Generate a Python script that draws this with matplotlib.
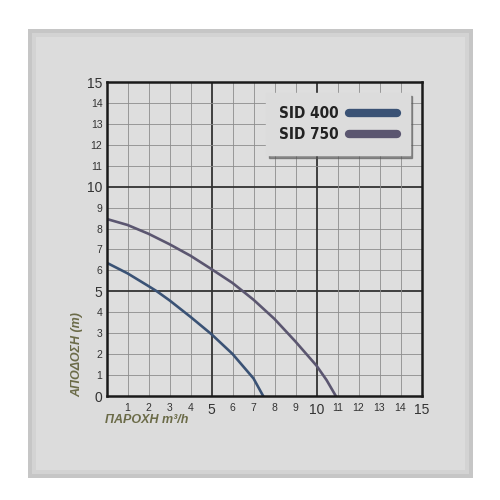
import matplotlib
matplotlib.use('Agg')
import matplotlib.pyplot as plt
from matplotlib.lines import Line2D
from matplotlib.patches import Rectangle

# pump curves (flow m3/h, head m)
q_400 = [0, 1, 2, 2.4, 3, 4, 5, 6, 7, 7.46]
h_400 = [6.37, 5.86, 5.25, 5.0, 4.57, 3.78, 2.95, 2.01, 0.84, 0.0]
q_750 = [0, 1, 2, 3, 4, 5, 6, 7, 8, 9, 10, 10.48, 10.92]
h_750 = [8.46, 8.17, 7.75, 7.25, 6.7, 6.06, 5.4, 4.6, 3.68, 2.6, 1.45, 0.76, 0.0]
names = ['SID 400', 'SID 750']
colors = ['#3a5275', '#5b5670']
ticks = list(range(0, 16))

fig = plt.figure(figsize=(5, 5), dpi=100, facecolor='white')

# grey panel behind the chart, with a soft darker rim
for k, fc in enumerate(['#c6c6c6', '#d3d3d3', '#dcdcdc']):
    d = 4 * k
    fig.patches.append(Rectangle(((28 + d)/500, (22 + d)/500), (445 - 2*d)/500, (449 - 2*d)/500,
                                 transform=fig.transFigure, facecolor=fc, edgecolor='none', zorder=-10))

ax = fig.add_axes([106.5/500, 104/500, 315/500, 314/500])
ax.set_facecolor('#dedede')
ax.set_xlim(0, 15); ax.set_ylim(0, 15)

# grid: thin every unit, heavy at 5 and 10
for v in ticks[1:-1]:
    heavy = v % 5 == 0
    c = '#333333' if heavy else '#8c8c8c'
    w = 1.3 if heavy else 0.6
    ax.axvline(v, color=c, lw=w, zorder=1)
    ax.axhline(v, color=c, lw=w, zorder=1)

ax.plot(q_400, h_400, color=colors[0], lw=1.9, zorder=3, solid_joinstyle='round')
ax.plot(q_750, h_750, color=colors[1], lw=1.9, zorder=3, solid_joinstyle='round')

for s in ax.spines.values():
    s.set_linewidth(1.8); s.set_color('#1a1a1a'); s.set_zorder(4)

ax.set_xticks(ticks[1:]); ax.set_yticks(ticks)
ax.set_xticklabels([str(t) for t in ticks[1:]])
ax.set_yticklabels([str(t) for t in ticks])
ax.tick_params(length=0, colors='#333333')
ax.tick_params(axis='x', pad=5)
ax.tick_params(axis='y', pad=3)
for lab in ax.get_xticklabels() + ax.get_yticklabels():
    big = int(lab.get_text()) % 5 == 0
    lab.set_fontsize(10 if big else 7.5)
    lab.set_family('Liberation Sans')

# legend box
handles = [Line2D([], [], color=c, lw=6, solid_capstyle='round') for c in colors]
leg = ax.legend(handles, names, loc='upper right', bbox_to_anchor=(0.962, 0.965),
                borderaxespad=0, markerfirst=False, handlelength=3.1, handletextpad=0.7,
                labelspacing=0.4, borderpad=0.85, fancybox=False,
                shadow={'color': '#555555', 'alpha': 0.6},
                framealpha=1, facecolor='#dcdcdc', edgecolor='#dcdcdc',
                prop={'family': 'DejaVu Sans', 'stretch': 'condensed', 'weight': 'bold', 'size': 11})
leg.set_zorder(5)
for t in leg.get_texts():
    t.set_color('#222222')

lab_style = dict(family='Liberation Sans', style='italic', weight='bold', color='#6b6b48', fontsize=9)
fig.text(77/500, 1 - 397/500, 'ΑΠΟΔΟΣΗ (m)', rotation=90, ha='center', va='bottom', **lab_style)
fig.text(105/500, 1 - 420/500, 'ΠΑΡΟΧΗ m³/h', ha='left', va='center', **lab_style)

fig.savefig('out.png', dpi=100, facecolor='white')
